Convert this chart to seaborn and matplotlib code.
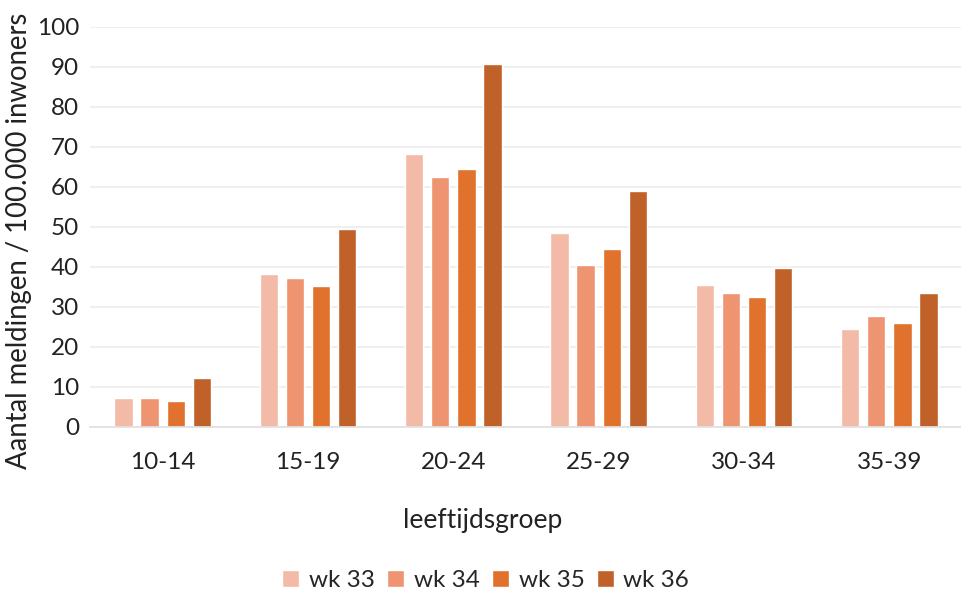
import matplotlib
matplotlib.use("Agg")
import matplotlib.pyplot as plt
import pandas as pd
import seaborn as sns

# values
age_groups = ["10-14", "15-19", "20-24", "25-29", "30-34", "35-39"]
weeks = ["wk 33", "wk 34", "wk 35", "wk 36"]
wk33 = [7.3, 38.3, 68.2, 48.6, 35.4, 24.6]
wk34 = [7.2, 37.2, 62.4, 40.4, 33.6, 27.7]
wk35 = [6.5, 35.2, 64.6, 44.6, 32.6, 26.1]
wk36 = [12.2, 49.5, 90.7, 59.1, 39.7, 33.6]
yticks = list(range(0, 101, 10))

colors = ["#F3BAA7", "#EE9470", "#E1722E", "#C0612A"]

sns.set_theme(style="white")
plt.rcParams["font.family"] = ["Lato", "DejaVu Sans"]

df = pd.DataFrame({
    "leeftijdsgroep": age_groups * 4,
    "week": [w for w in weeks for _ in age_groups],
    "meldingen": wk33 + wk34 + wk35 + wk36,
})

fig = plt.figure(figsize=(9.62, 5.98), dpi=100)
ax = fig.add_axes([0.0936, 0.286, 0.9064, 0.669])

sns.barplot(
    data=df, x="leeftijdsgroep", y="meldingen", hue="week",
    order=age_groups, hue_order=weeks, palette=colors, saturation=1,
    width=0.72, gap=0.3, ax=ax, legend=True,
)

ax.set_ylim(0, 100)
ax.set_yticks(yticks)
ax.grid(axis="y", color="#ececec", lw=1.2)
ax.set_axisbelow(True)
for side in ["top", "right", "left"]:
    ax.spines[side].set_visible(False)
ax.spines["bottom"].set_color("#e0e0e0")
ax.tick_params(axis="y", labelsize=17.5, colors="#222222", length=0, pad=8)
ax.tick_params(axis="x", labelsize=17.5, colors="#222222", length=0, pad=18)
ax.set_ylabel("Aantal meldingen / 100.000 inwoners", fontsize=19.8, color="#222222")
ax.yaxis.set_label_coords(-0.066, 0.465)
ax.set_xlabel("leeftijdsgroep", fontsize=19, color="#222222")
ax.xaxis.set_label_coords(0.45, -0.203)

handles, labels = ax.get_legend_handles_labels()
ax.get_legend().remove()
fig.legend(handles, labels, loc="center", bbox_to_anchor=(0.505, 0.03), ncol=4,
           frameon=False, fontsize=17.5, handlelength=0.7, handleheight=0.7,
           handletextpad=0.4, columnspacing=0.5)

fig.savefig("out.png", dpi=100)
